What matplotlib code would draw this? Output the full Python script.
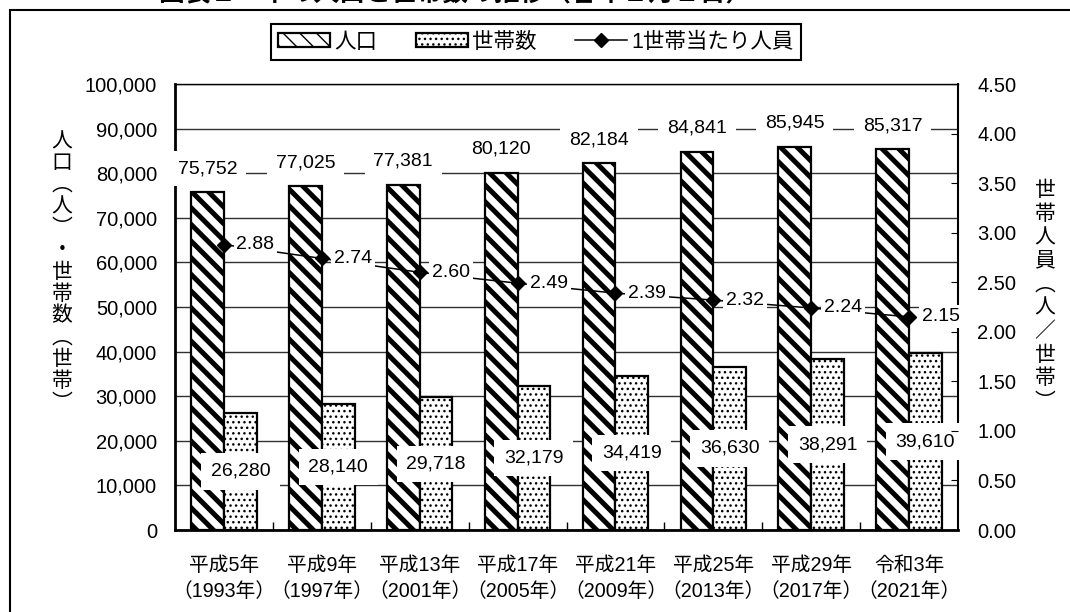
import matplotlib.pyplot as plt
from matplotlib.patches import Rectangle
import numpy as np

plt.rcParams['font.family'] = ['Liberation Sans', 'Noto Sans CJK JP']
plt.rcParams['font.size'] = 14

# data
era_labels = ['平成5年', '平成9年', '平成13年', '平成17年', '平成21年', '平成25年', '平成29年', '令和3年']
year_labels = ['1993年', '1997年', '2001年', '2005年', '2009年', '2013年', '2017年', '2021年']
population = [75752, 77025, 77381, 80120, 82184, 84841, 85945, 85317]
households = [26280, 28140, 29718, 32179, 34419, 36630, 38291, 39610]
per_household = [2.88, 2.74, 2.60, 2.49, 2.39, 2.32, 2.24, 2.15]

fig = plt.figure(figsize=(10.7, 6.12), dpi=100)
ax = fig.add_axes([175 / 1070, 1 - 530 / 612, 783 / 1070, 446 / 612])

x = np.arange(len(era_labels))
w = 0.335

plt.rcParams['hatch.linewidth'] = 3.6
bars_pop = ax.bar(x - w / 2, population, w, color='white', edgecolor='black',
                  linewidth=1.6, hatch='\\\\', label='人口')
for p in bars_pop:
    if hasattr(p, 'set_hatch_linewidth'):
        p.set_hatch_linewidth(3.6)
plt.rcParams['hatch.linewidth'] = 1.0
bars_hh = ax.bar(x + w / 2, households, w, color='white', edgecolor='black',
                 linewidth=1.6, hatch='...', label='世帯数')
for p in bars_hh:
    if hasattr(p, 'set_hatch_linewidth'):
        p.set_hatch_linewidth(1.0)

ax.set_xlim(-0.5, len(x) - 0.5)
ax.set_ylim(0, 100000)
ax.set_yticks(np.arange(0, 100001, 10000))
ax.set_yticklabels([f'{v:,}' for v in range(0, 100001, 10000)], fontsize=14.5)
ax.yaxis.grid(True, color='#303030', linewidth=1)
ax.set_axisbelow(True)
ax.tick_params(axis='y', length=0, pad=13)
ax.set_xticks(x)
ax.set_xticklabels([f'{a}\n（{b}）' for a, b in zip(era_labels, year_labels)],
                   linespacing=1.42, fontsize=14.2)
ax.tick_params(axis='x', length=0, pad=19)
ax.set_xticks(np.arange(0.5, len(x) - 1, 1), minor=True)
ax.tick_params(axis='x', which='minor', direction='in', length=6, width=1)
ax.spines['left'].set_linewidth(2)
ax.spines['bottom'].set_linewidth(2)
ax.spines['top'].set_linewidth(1)
ax.spines['right'].set_linewidth(1.5)

for xi, v in zip(x, population):
    ax.annotate(f'{v:,}', (xi - w / 2, v), xytext=(0, 17), textcoords='offset points',
                ha='center', va='center', zorder=10,
                bbox=dict(boxstyle='square,pad=0.45', fc='white', ec='none'))
for xi, v in zip(x, households):
    ax.annotate(f'{v:,}', (xi + w / 2, v / 2), ha='center', va='center', zorder=10,
                bbox=dict(boxstyle='square,pad=0.5', fc='white', ec='none'))

ax2 = ax.twinx()
ax2.set_ylim(0, 4.5)
ax2.set_yticks(np.arange(0, 4.51, 0.5))
ax2.set_yticklabels([f'{v:.2f}' for v in np.arange(0, 4.51, 0.5)], fontsize=14.5)
ax2.tick_params(axis='y', direction='in', length=5, pad=14)
for s in ax2.spines.values():
    s.set_visible(False)
line, = ax2.plot(x, per_household, color='black', linewidth=1.1, marker='D',
                 markersize=7, label='1世帯当たり人員', zorder=5)
for xi, v in zip(x, per_household):
    ax2.annotate(f'{v:.2f}', (xi, v), xytext=(9, 0), textcoords='offset points',
                 ha='left', va='center', zorder=10,
                 bbox=dict(boxstyle='square,pad=0.15', fc='white', ec='none'))

# vertical axis titles
left_title = ['人', '口', '︵', '人', '︶', '・', '世', '帯', '数', '︵', '世', '帯', '︶']
right_title = ['世', '帯', '人', '員', '︵', '人', '／', '世', '帯', '︶']
fig.text(62 / 1070, 1 - 272 / 612, '\n'.join(left_title), ha='center', va='center',
         linespacing=0.99, fontsize=15, family=['Noto Sans CJK JP'])
fig.text(1045 / 1070, 1 - 296 / 612, '\n'.join(right_title), ha='center', va='center',
         linespacing=1.09, fontsize=15, family=['Noto Sans CJK JP'])

leg = fig.legend(handles=[bars_pop, bars_hh, line], loc='center',
                 bbox_to_anchor=(536 / 1070, 1 - 42 / 612), ncol=3, frameon=True,
                 fancybox=False, edgecolor='black', framealpha=1, fontsize=15.5,
                 handlelength=2.4, handleheight=0.6, handletextpad=0.2,
                 columnspacing=1.8, borderpad=0.35)
leg.get_frame().set_linewidth(1.5)

fig.text(455 / 1070, 1 - 1.5 / 612, '図表１　市の人口と世帯数の推移（各年１月１日）',
         ha='center', va='baseline', fontsize=18.5, fontweight='bold',
         family=['Noto Sans CJK JP'])

fig.add_artist(Rectangle((10 / 1070, -0.1), 1.2, 1.1 - 10 / 612, fill=False,
                         edgecolor='black', linewidth=1.5, transform=fig.transFigure))

fig.savefig('out.png', dpi=100)
